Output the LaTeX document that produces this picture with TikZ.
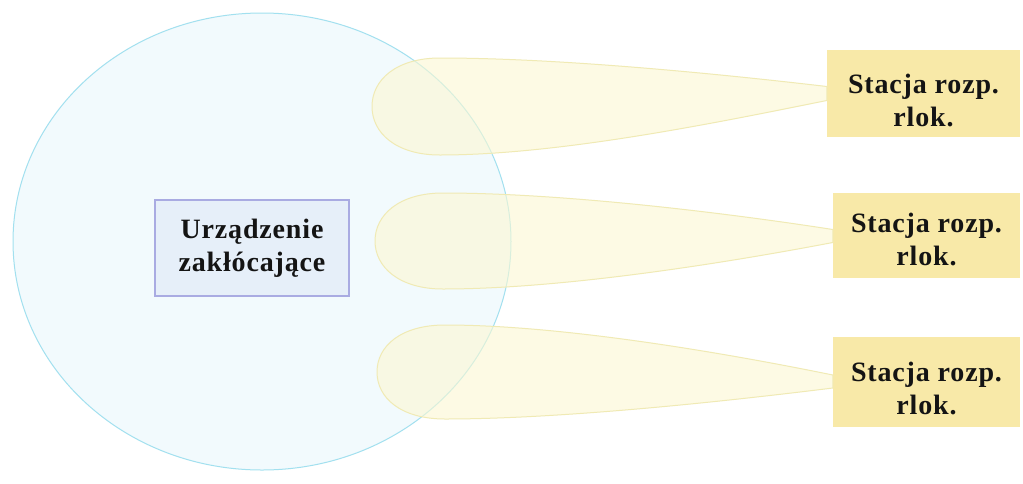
\documentclass[tikz,border=0pt]{standalone}
\usepackage{fontspec}
\setmainfont{Liberation Serif}[LetterSpace=3]
\usetikzlibrary{calc}
\begin{document}
\begin{tikzpicture}[x=1pt,y=-1pt,
  lab/.style={font=\bfseries\fontsize{28}{33}\selectfont, align=center, text=black!92, inner sep=0pt},
  station/.style={fill=stationfill, draw=none, inner sep=0pt},
  device/.style={lab, fill=devicefill, draw=deviceline, line width=1.2pt, minimum width=194pt, minimum height=96pt},
  lobe/.style={fill=lobefill, fill opacity=0.6, draw=lobeline, line width=1pt},
  zone/.style={fill=zonefill, draw=zoneline, line width=1pt}]
\definecolor{stationfill}{HTML}{F8E9A8}
\definecolor{devicefill}{HTML}{E6EFF9}
\definecolor{deviceline}{HTML}{A9ABE2}
\definecolor{lobefill}{HTML}{FCF8D2}
\definecolor{lobeline}{HTML}{F0EAB4}
\definecolor{zonefill}{HTML}{F2FAFD}
\definecolor{zoneline}{HTML}{A2E0EF}
\useasboundingbox (0,0) rectangle (1023,483);
\fill[white] (0,0) rectangle (1023,483);
% interference zone
\draw[zone] (262,241.5) ellipse [x radius=249, y radius=228.5];
% device
\node[device] (dev) at (252,248) {Urządzenie\\zakłócające};
% stations
\node[station, minimum width=193pt, minimum height=87pt,
  label={[lab,yshift=-7pt]center:{Stacja rozp.\\rlok.}}] (s1) at (923.5,93.5) {};
\node[station, minimum width=187pt, minimum height=85pt,
  label={[lab,yshift=-4pt]center:{Stacja rozp.\\rlok.}}] (s2) at (926.5,235.5) {};
\node[station, minimum width=187pt, minimum height=90pt,
  label={[lab,yshift=-6pt]center:{Stacja rozp.\\rlok.}}] (s3) at (926.5,382) {};
% lobes
\draw[lobe] ($(s1.west)+(0,-7)$) .. controls (720,74) and (560,58) .. (440,58)
  .. controls (396,58) and (372,80) .. (372,106.5)
  .. controls (372,133) and (396,155) .. (440,155)
  .. controls (560,155) and (720,122) .. ($(s1.west)+(0,7)$) -- cycle;
\draw[lobe] ($(s2.west)+(0,-6)$) .. controls (720,212) and (560,193) .. (443,193)
  .. controls (399,193) and (375,215) .. (375,241)
  .. controls (375,267) and (399,289) .. (443,289)
  .. controls (560,289) and (720,264) .. ($(s2.west)+(0,7)$) -- cycle;
\draw[lobe] ($(s3.west)+(0,-7)$) .. controls (720,352) and (560,325) .. (445,325)
  .. controls (401,325) and (377,346) .. (377,372)
  .. controls (377,398) and (401,419) .. (445,419)
  .. controls (560,419) and (720,402) .. ($(s3.west)+(0,6)$) -- cycle;
\end{tikzpicture}
\end{document}
